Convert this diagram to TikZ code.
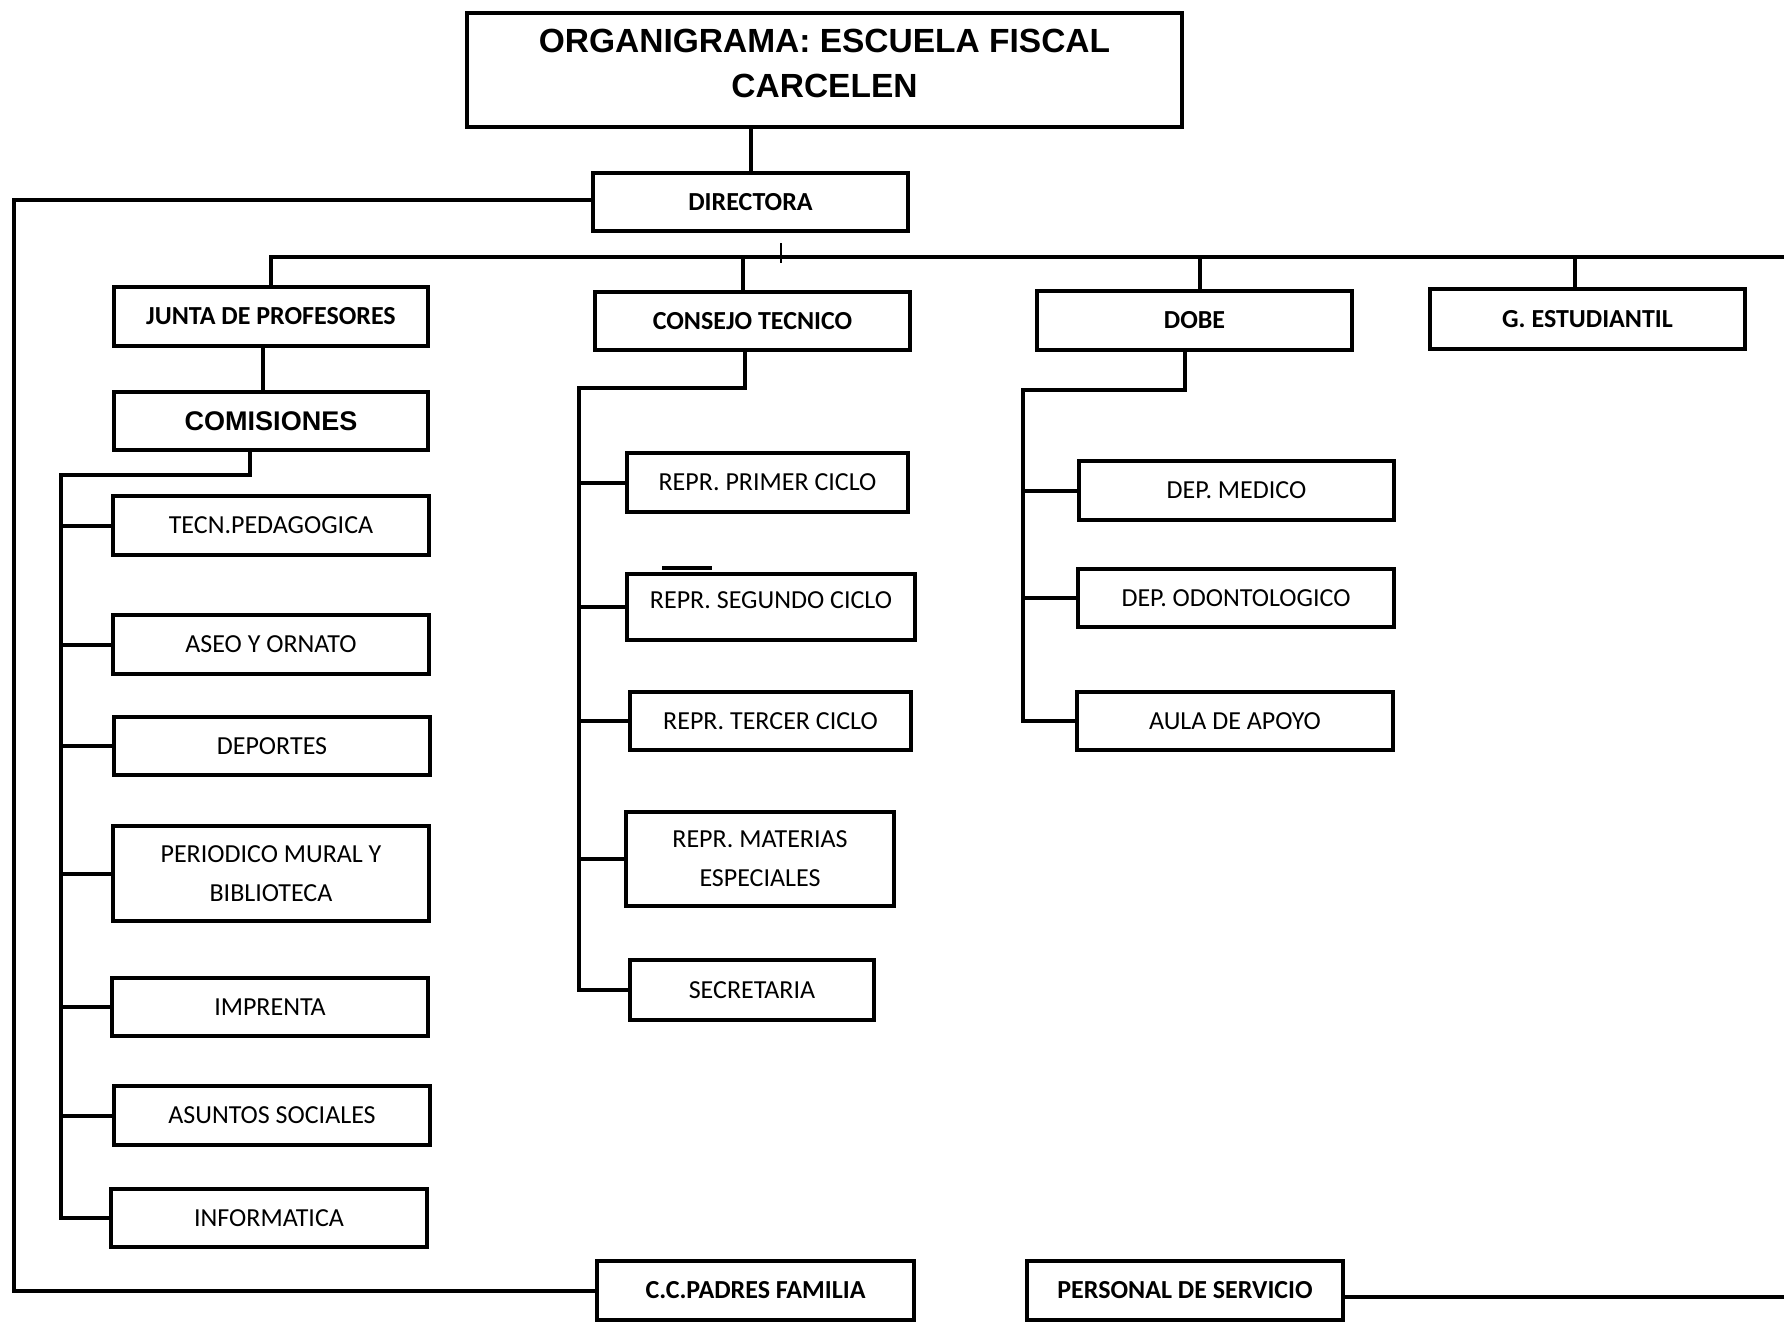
\documentclass[tikz,border=0pt]{standalone}
\usepackage{fontspec}
\setmainfont{Carlito}
\newfontfamily\arialfam{Liberation Sans}
\tikzset{
  orgline/.style={line width=4pt},
  box/.style={draw, line width=4pt, inner sep=1pt, align=center,
    font=\fontsize{26}{39}\selectfont},
  bbox/.style={box, font=\fontsize{26}{39}\selectfont\bfseries},
  abox/.style={box, font=\arialfam\fontsize{27}{40}\selectfont\bfseries},
  tbox/.style={box, font=\arialfam\fontsize{33.5}{45}\selectfont\bfseries},
}
\newcommand\obox[6]{\node[#6,minimum width={(#4-#2-4)*1pt},minimum height={(#5-#3-4)*1pt}] (#1) at ({(#2+#4)/2},{(#3+#5)/2})}
\begin{document}
\begin{tikzpicture}[x=1pt,y=-1pt]
\useasboundingbox (0,0) rectangle (1784,1326);
% boxes
\obox{title}{465}{11}{1184}{129}{tbox} {\raisebox{-2.5pt}[0pt][0pt]{\begin{tabular}{@{}c@{}}ORGANIGRAMA: ESCUELA FISCAL\\CARCELEN\end{tabular}}};
\obox{dir}{591}{171}{910}{233}{bbox} {DIRECTORA};
\obox{junta}{112}{285}{430}{348}{bbox} {JUNTA DE PROFESORES};
\obox{cons}{593}{290}{912}{352}{bbox} {CONSEJO TECNICO};
\obox{dobe}{1035}{289}{1354}{352}{bbox} {DOBE};
\obox{gest}{1428}{287}{1747}{351}{bbox} {G. ESTUDIANTIL};
\obox{com}{112}{390}{430}{452}{abox} {COMISIONES};
\obox{tecn}{111}{494}{431}{557}{box} {TECN.PEDAGOGICA};
\obox{aseo}{111}{613}{431}{676}{box} {ASEO Y ORNATO};
\obox{dep}{112}{715}{432}{777}{box} {DEPORTES};
\obox{peri}{111}{824}{431}{923}{box} {PERIODICO MURAL Y\\BIBLIOTECA};
\obox{impr}{110}{976}{430}{1038}{box} {IMPRENTA};
\obox{asun}{112}{1084}{432}{1147}{box} {ASUNTOS SOCIALES};
\obox{info}{109}{1187}{429}{1249}{box} {INFORMATICA};
\obox{ra}{625}{451}{910}{514}{box} {REPR. PRIMER CICLO};
\obox{rb}{625}{572}{917}{642}{box} {\raisebox{-1pt}[0pt][0pt]{REPR. SEGUNDO CICLO}};
\obox{rc}{628}{690}{913}{752}{box} {REPR. TERCER CICLO};
\obox{rd}{624}{810}{896}{908}{box} {REPR. MATERIAS\\ESPECIALES};
\obox{secr}{628}{958}{876}{1022}{box} {SECRETARIA};
\obox{med}{1077}{459}{1396}{522}{box} {DEP. MEDICO};
\obox{odon}{1076}{567}{1396}{629}{box} {DEP. ODONTOLOGICO};
\obox{aula}{1075}{690}{1395}{752}{box} {AULA DE APOYO};
\obox{cc}{595}{1259}{916}{1322}{bbox} {C.C.PADRES FAMILIA};
\obox{pers}{1025}{1259}{1345}{1322}{bbox} {PERSONAL DE SERVICIO};
% title to directora
\draw[orgline] (dir.north) -- (dir.north |- title.south);
% directora to padres de familia
\coordinate (lc) at (14,0);
\draw[orgline] ([yshift=2pt]dir.west) -| (lc |- cc.west) -- (cc.west);
% main bus
\coordinate (busR) at (1784,257);
\draw[orgline] (junta.north) |- (busR);
\path (cons.north) ++(-9.5,0) coordinate (ct);
\draw[orgline] (ct) -- (ct |- busR);
\path (dobe.north) ++(5.5,0) coordinate (dt);
\draw[orgline] (dt) -- (dt |- busR);
\path (gest.north) ++(-12.5,0) coordinate (gt);
\draw[orgline] (gt) -- (gt |- busR);
\coordinate (tick) at (781,243);
\draw[line width=1.2pt] (tick) -- ++(0,20);
% junta to comisiones
\path (junta.south) ++(-8,0) coordinate (jt);
\draw[orgline] (jt) -- (jt |- com.north);
% comisiones tree
\path (com.south) ++(-21.5,0) coordinate (cs);
\coordinate (ktk) at (61,475);
\draw[orgline] (cs) |- (ktk) -- (ktk |- info.west) -- (info.west);
\foreach \n in {tecn,aseo,dep,peri,impr,asun}
  \draw[orgline] (ktk |- \n.west) -- (\n.west);
% consejo tree
\path (cons.south) ++(-7.5,0) coordinate (cb);
\coordinate (ctk) at (579,388);
\draw[orgline] (cb) |- (ctk) -- (ctk |- secr.west) -- (secr.west);
\foreach \n in {ra,rb,rc,rd}
  \draw[orgline] (ctk |- \n.west) -- (\n.west);
\draw[line width=4.5pt] ([shift={(37,-4)}]rb.north west) -- ++(50,0);
% dobe tree
\path (dobe.south) ++(-9.5,0) coordinate (db);
\coordinate (dtk) at (1023,390);
\draw[orgline] (db) |- (dtk) -- (dtk |- aula.west) -- (aula.west);
\foreach \n in {med,odon}
  \draw[orgline] (dtk |- \n.west) -- (\n.west);
% personal de servicio
\coordinate (pr) at (1784,0);
\draw[orgline] ([yshift=-6.5pt]pers.east) -- ([yshift=-6.5pt]pers.east -| pr);
\end{tikzpicture}
\end{document}
